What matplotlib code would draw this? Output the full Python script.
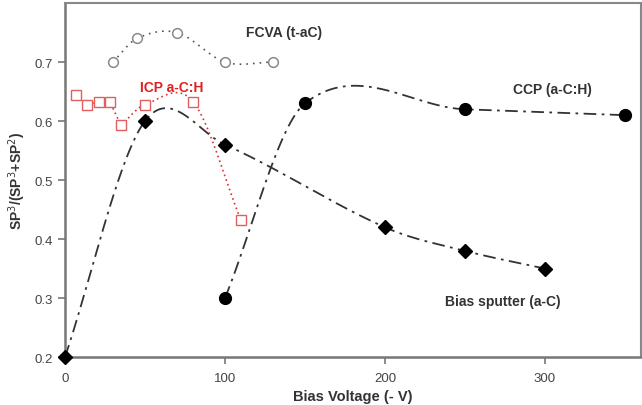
import numpy as np
import matplotlib.pyplot as plt

plt.rcParams['font.family'] = ['Liberation Sans', 'DejaVu Sans']

# Bias sputter (a-C)
sputter_v = [0, 50, 100, 200, 250, 300]
sputter_sp3 = [0.20, 0.60, 0.56, 0.42, 0.38, 0.35]

# CCP (a-C:H)
ccp_v = [100, 150, 250, 350]
ccp_sp3 = [0.30, 0.63, 0.62, 0.61]

# FCVA (t-aC)
fcva_v = [30, 45, 70, 100, 130]
fcva_sp3 = [0.70, 0.74, 0.75, 0.70, 0.70]

# ICP a-C:H
icp_v = [7, 14, 21, 28, 35, 50, 80, 110]
icp_sp3 = [0.645, 0.628, 0.633, 0.633, 0.593, 0.628, 0.633, 0.432]


def smooth(x, y, n=40):
    # cubic hermite through the points, catmull-rom style tangents
    x = np.asarray(x, float)
    y = np.asarray(y, float)
    m = np.zeros_like(y)
    m[0] = (y[1] - y[0]) / (x[1] - x[0])
    m[-1] = (y[-1] - y[-2]) / (x[-1] - x[-2])
    for i in range(1, len(x) - 1):
        m[i] = (y[i + 1] - y[i - 1]) / (x[i + 1] - x[i - 1])
    xs, ys = [], []
    for i in range(len(x) - 1):
        h = x[i + 1] - x[i]
        t = np.linspace(0, 1, n)
        h00 = 2 * t**3 - 3 * t**2 + 1
        h10 = t**3 - 2 * t**2 + t
        h01 = -2 * t**3 + 3 * t**2
        h11 = t**3 - t**2
        xs.append(x[i] + t * h)
        ys.append(h00 * y[i] + h10 * h * m[i] + h01 * y[i + 1] + h11 * h * m[i + 1])
    return np.concatenate(xs), np.concatenate(ys)


fig = plt.figure(figsize=(6.42, 4.06), dpi=100)
ax = fig.add_axes([0.1012, 0.118, 0.897, 0.872])

dashdot = (0, (7, 3, 1.5, 3))

sx, sy = smooth(sputter_v, sputter_sp3)
ax.plot(sx, sy, color='#333333', lw=1.3, ls=dashdot)
ax.plot(sputter_v, sputter_sp3, 'D', color='black', ms=7, clip_on=False, zorder=5)

cx, cy = smooth(ccp_v, ccp_sp3)
ax.plot(cx, cy, color='#333333', lw=1.3, ls=dashdot, clip_on=False)
ax.plot(ccp_v, ccp_sp3, 'o', color='black', ms=8.5, clip_on=False, zorder=5)

fx, fy = smooth(fcva_v, fcva_sp3)
ax.plot(fx, fy, color='#555555', lw=1.2, ls=(0, (1, 3)))
ax.plot(fcva_v, fcva_sp3, 'o', mfc='white', mec='#8a8a8a', mew=1.1, ms=7)

ix, iy = smooth(icp_v[4:], icp_sp3[4:])
ax.plot(icp_v[:5], icp_sp3[:5], color='#e03030', lw=1.2, ls=(0, (1, 2)))
ax.plot(ix, iy, color='#e03030', lw=1.2, ls=(0, (1, 2)))
ax.plot(icp_v, icp_sp3, 's', mfc='white', mec='#e06060', mew=1.0, ms=6.5)

ax.text(137, 0.751, 'FCVA (t-aC)', fontsize=10, fontweight='bold', color='#333333',
        ha='center', va='center')
ax.text(67, 0.657, 'ICP a-C:H', fontsize=10, fontweight='bold', color='#e02020',
        ha='center', va='center')
ax.text(305, 0.654, 'CCP (a-C:H)', fontsize=10, fontweight='bold', color='#333333',
        ha='center', va='center')
ax.text(274, 0.295, 'Bias sputter (a-C)', fontsize=10, fontweight='bold', color='#333333',
        ha='center', va='center')

ax.set_xlim(0, 360)
ax.set_ylim(0.2, 0.8)
ax.set_xticks([0, 100, 200, 300])
ax.set_yticks([0.2, 0.3, 0.4, 0.5, 0.6, 0.7])
ax.set_yticklabels(['0.2', '0.3', '0.4', '0.5', '0.6', '0.7'])
ax.tick_params(colors='#777777', labelcolor='#444444', labelsize=9.5, length=5, width=1.2)
ax.tick_params(axis='x', pad=6)

for side in ['left', 'bottom']:
    ax.spines[side].set_color('#777777')
    ax.spines[side].set_linewidth(1.8)
for side in ['top', 'right']:
    ax.spines[side].set_color('#888888')
    ax.spines[side].set_linewidth(1.5)

ax.set_xlabel('Bias Voltage (- V)', fontsize=10.5, fontweight='bold', color='#333333', labelpad=3)
ax.set_ylabel('SP$^3$/(SP$^3$+SP$^2$)', fontsize=10, fontweight='bold', color='#333333', labelpad=5)

fig.savefig('out.png', dpi=100)
